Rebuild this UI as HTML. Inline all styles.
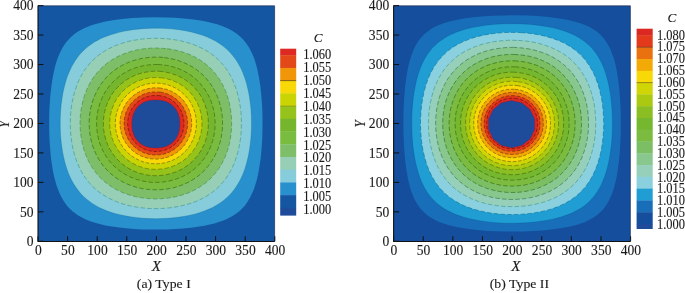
<!DOCTYPE html>
<html><head><meta charset="utf-8"><style>
html,body{margin:0;padding:0;background:#fff;}
body{width:685px;height:293px;overflow:hidden;}
svg{display:block;will-change:transform;}
text{stroke:#1a1a1a;stroke-width:0.12px;}
.t{font-family:"Liberation Serif",serif;font-size:14px;fill:#1a1a1a;}
.c{font-family:"Liberation Serif",serif;font-size:14.3px;fill:#1a1a1a;}
.cap{font-family:"Liberation Serif",serif;font-size:12.7px;fill:#1a1a1a;}
.i{font-family:"Liberation Serif",serif;font-size:14.6px;font-style:italic;fill:#1a1a1a;}
.ic{font-family:"Liberation Serif",serif;font-size:13.2px;font-style:italic;fill:#1a1a1a;}
</style></head><body>
<svg width="685" height="293" viewBox="0 0 685 293">
<clipPath id="c1000"><rect x="38.00" y="5.60" width="236.80" height="235.70"/></clipPath>
<g clip-path="url(#c1000)">
<rect x="38.00" y="5.60" width="236.80" height="235.70" fill="#1456a2"/>
<defs><path id="p1" d="M165.9 17.4 154.7 17.2 143.4 17.5 132.2 18.1 122.1 19.0 112.6 20.3 104.3 21.8 100.4 22.7 96.7 23.7 93.1 24.8 89.5 26.0 84.2 28.2 81.3 29.7 78.9 31.1 76.5 32.6 74.2 34.3 71.9 36.2 70.0 38.0 68.2 39.9 66.3 42.1 64.6 44.5 63.1 46.8 61.7 49.2 60.2 52.2 57.9 57.5 56.3 62.2 54.8 67.5 53.5 73.4 52.3 79.8 51.3 86.9 50.5 94.0 49.9 101.6 49.4 109.3 49.2 117.6 49.2 126.4 49.3 134.6 49.7 142.9 50.3 150.6 51.0 158.2 52.0 165.3 53.1 171.8 54.2 177.1 55.5 181.8 56.7 185.9 58.2 190.0 59.7 193.6 61.4 197.1 63.4 200.6 65.4 203.6 67.6 206.4 70.0 208.9 72.5 211.2 75.6 213.6 78.3 215.4 81.9 217.5 85.4 219.2 89.5 220.9 94.3 222.5 99.6 224.0 105.5 225.4 112.0 226.5 119.1 227.6 126.3 228.3 133.9 229.0 141.6 229.4 149.9 229.6 158.8 229.6 167.1 229.5 175.4 229.1 183.1 228.6 190.8 227.8 197.9 226.8 204.4 225.7 209.7 224.6 214.5 223.4 218.6 222.1 222.7 220.7 226.3 219.2 229.9 217.5 233.4 215.4 236.4 213.4 239.2 211.2 241.7 208.9 244.1 206.4 246.4 203.4 248.3 200.6 250.3 197.1 252.0 193.6 253.8 189.4 254.8 186.5 255.9 183.0 256.9 179.4 257.9 175.3 259.4 167.1 260.7 158.2 261.6 148.2 262.3 137.6 262.5 127.0 262.5 115.8 262.1 105.2 261.3 95.2 260.3 85.7 258.9 76.9 257.3 69.2 256.4 65.7 255.4 62.2 254.2 58.6 253.1 55.7 251.8 52.7 250.6 50.4 248.3 46.3 245.8 42.7 242.9 39.2 239.8 36.2 236.1 33.3 232.2 30.7 228.1 28.5 223.3 26.5 218.0 24.6 212.1 22.9 206.0 21.5 199.1 20.3 191.4 19.2 183.7 18.4 174.8 17.8Z"/></defs><use href="#p1" fill="#2890cc"/>
<defs><path id="p2" d="M167.1 28.6 162.4 28.3 157.0 28.2 151.7 28.2 147.0 28.4 142.2 28.7 137.5 29.2 132.8 29.7 128.0 30.5 123.3 31.3 119.1 32.3 115.0 33.4 111.5 34.4 107.9 35.7 104.3 37.1 100.8 38.6 97.4 40.4 94.3 42.1 91.6 43.9 89.0 45.8 86.2 48.0 83.6 50.4 81.3 52.7 79.2 55.1 77.4 57.5 75.3 60.4 73.6 63.2 71.8 66.3 70.4 69.2 69.1 72.2 67.6 75.8 66.4 79.3 65.2 83.4 63.8 88.7 62.7 94.0 61.9 99.3 61.1 105.2 60.6 111.1 60.3 117.0 60.2 122.9 60.3 129.3 60.5 135.2 61.1 141.1 61.8 147.0 62.6 152.3 63.7 157.6 65.0 162.9 66.4 167.6 68.1 172.4 69.8 176.5 71.5 180.0 73.5 183.6 75.7 187.1 78.3 190.6 80.7 193.5 83.0 196.0 86.0 198.7 89.0 201.1 91.9 203.2 95.5 205.4 99.0 207.4 102.6 209.1 106.7 210.8 110.9 212.3 115.6 213.7 120.9 215.0 126.3 216.1 131.6 217.0 137.5 217.7 143.4 218.3 149.3 218.6 155.3 218.7 161.8 218.6 167.7 218.3 173.6 217.8 179.5 217.1 184.9 216.2 190.2 215.2 195.5 213.9 200.2 212.5 205.0 210.8 209.1 209.1 212.7 207.4 216.2 205.4 219.8 203.2 223.3 200.7 226.2 198.3 228.7 195.9 231.5 193.0 233.9 190.0 236.0 187.1 238.2 183.6 240.2 180.0 241.9 176.5 243.6 172.4 245.1 168.2 246.5 163.5 248.0 157.6 249.3 151.1 250.2 144.7 251.0 137.6 251.4 130.5 251.5 123.4 251.4 116.4 251.0 109.3 250.3 102.8 249.4 96.3 248.1 89.9 246.7 84.0 244.9 78.1 242.9 72.8 240.8 68.1 238.2 63.3 235.8 59.5 232.9 55.7 229.9 52.2 226.9 49.2 223.4 46.3 219.8 43.7 215.6 41.1 211.5 38.9 206.8 36.8 202.0 35.0 196.7 33.4 191.4 32.0 185.4 30.8 179.5 29.8 173.6 29.1Z"/></defs><use href="#p2" fill="#86ccda"/>
<defs><path id="p3" d="M164.7 38.6 160.6 38.4 155.9 38.3 151.1 38.4 147.0 38.6 142.2 39.0 138.1 39.6 133.9 40.3 129.8 41.1 125.7 42.2 121.9 43.3 118.0 44.7 114.4 46.1 110.9 47.7 107.3 49.5 104.3 51.3 101.4 53.2 98.4 55.4 95.9 57.5 93.3 59.8 90.7 62.5 88.4 65.2 86.1 68.1 84.2 70.8 82.4 73.6 80.7 76.8 79.2 79.8 77.6 83.4 76.3 86.9 75.1 90.5 73.9 94.6 72.9 98.7 72.1 102.8 71.3 107.5 70.8 112.3 70.4 117.0 70.3 121.7 70.3 127.0 70.6 131.7 71.0 136.4 71.6 141.1 72.4 145.8 73.3 150.0 74.5 154.7 75.8 158.8 77.4 162.9 79.2 167.1 80.9 170.6 83.0 174.1 84.9 177.1 87.2 180.2 89.5 183.1 92.1 185.9 94.9 188.5 97.8 191.1 100.8 193.3 103.9 195.3 107.3 197.4 110.9 199.2 114.4 200.8 118.4 202.4 122.1 203.7 126.3 204.9 130.4 205.9 135.1 206.8 139.9 207.6 144.6 208.1 149.3 208.5 154.1 208.6 159.4 208.6 164.1 208.3 168.9 207.9 173.6 207.3 178.3 206.5 182.5 205.6 187.2 204.4 191.4 203.1 195.5 201.6 199.7 199.8 203.2 198.0 206.8 196.0 209.7 194.1 212.9 191.8 215.8 189.4 218.6 186.9 221.2 184.1 223.8 181.2 226.0 178.3 228.1 175.2 230.1 171.8 232.0 168.2 233.6 164.7 235.2 160.7 236.4 157.0 237.7 152.9 238.7 148.8 239.6 144.1 240.4 139.4 241.0 134.1 241.3 128.8 241.4 123.4 241.3 118.1 241.0 112.8 240.4 107.5 239.6 102.8 238.5 97.5 237.3 92.8 235.9 88.1 234.3 84.0 232.5 79.8 230.4 75.7 228.4 72.2 226.0 68.6 223.8 65.7 221.0 62.5 218.0 59.5 215.1 56.8 212.1 54.5 208.5 52.0 204.9 49.8 200.8 47.7 197.3 46.1 193.1 44.4 189.0 43.0 184.3 41.7 179.5 40.6 174.8 39.8 170.1 39.1Z"/></defs><use href="#p3" fill="#96cfb6"/>
<defs><path id="p4" d="M165.9 48.6 162.4 48.3 158.2 48.1 154.1 48.0 150.5 48.2 146.4 48.5 142.8 48.9 138.7 49.6 135.1 50.4 131.6 51.3 128.0 52.4 124.5 53.6 121.5 54.8 118.0 56.5 115.0 58.0 112.1 59.8 109.4 61.6 106.7 63.5 104.1 65.7 101.5 68.1 99.2 70.4 97.1 72.8 94.9 75.6 93.1 78.1 91.2 81.0 89.5 84.0 88.0 86.9 86.6 90.0 85.3 93.4 84.1 96.9 83.0 100.5 82.2 104.0 81.5 107.5 80.9 111.1 80.4 115.2 80.2 119.3 80.1 123.4 80.2 127.6 80.4 131.7 80.9 135.8 81.5 139.4 82.3 143.5 83.2 147.0 84.4 151.1 85.7 154.7 87.2 158.2 88.6 161.2 90.5 164.7 92.3 167.6 94.3 170.5 96.1 172.9 98.4 175.6 100.9 178.3 103.4 180.6 106.1 182.9 109.1 185.1 112.0 187.1 115.0 188.9 118.4 190.6 121.5 192.1 125.1 193.5 128.6 194.7 132.2 195.8 135.7 196.7 139.9 197.5 143.4 198.0 147.6 198.5 151.7 198.8 155.9 198.9 160.0 198.8 164.1 198.5 168.3 198.0 171.8 197.5 176.0 196.7 179.5 195.8 183.7 194.5 187.2 193.3 190.8 191.8 193.7 190.4 197.3 188.5 200.2 186.7 203.1 184.7 205.6 182.9 208.3 180.6 210.9 178.1 213.3 175.6 215.6 172.9 217.8 170.0 219.8 167.1 221.6 164.1 223.3 160.7 224.8 157.6 226.2 154.1 227.5 150.6 228.5 147.0 229.4 143.5 230.2 139.4 230.9 135.2 231.3 131.1 231.6 127.0 231.6 122.3 231.5 118.1 231.1 114.0 230.6 109.9 229.9 105.8 229.0 101.6 228.0 98.1 226.7 94.0 225.3 90.5 223.7 86.9 221.9 83.4 219.8 79.9 217.8 76.9 215.6 74.0 213.3 71.3 210.8 68.6 207.9 66.0 205.0 63.5 202.3 61.6 199.1 59.4 196.1 57.7 192.6 55.9 189.0 54.3 185.4 53.0 181.9 51.8 178.3 50.8 174.2 49.9 170.1 49.1Z"/></defs><use href="#p4" fill="#7ebe68"/>
<defs><path id="p5" d="M163.0 57.4 160.0 57.2 156.4 57.1 152.9 57.2 149.3 57.4 145.8 57.8 142.8 58.2 139.3 59.0 136.3 59.7 133.4 60.6 130.4 61.6 127.4 62.8 124.5 64.1 121.5 65.7 119.1 67.1 116.2 69.0 113.8 70.7 111.5 72.6 109.1 74.7 106.9 76.9 104.9 79.1 102.9 81.6 101.1 84.0 99.6 86.3 97.8 89.3 96.3 92.2 94.9 95.2 93.7 98.1 92.7 101.1 91.8 104.0 90.9 107.5 90.3 110.5 89.8 114.0 89.4 117.6 89.2 120.5 89.2 124.0 89.3 127.6 89.6 131.1 90.0 134.6 90.5 137.6 91.3 141.1 92.3 144.7 93.3 147.6 94.4 150.6 95.7 153.5 97.2 156.4 98.8 159.4 100.7 162.3 102.4 164.7 104.3 167.1 106.4 169.4 108.5 171.6 110.9 173.8 113.2 175.7 115.8 177.7 118.6 179.5 121.5 181.2 124.5 182.8 127.4 184.1 130.4 185.3 133.4 186.3 136.3 187.2 139.9 188.1 142.8 188.7 146.4 189.2 149.9 189.6 152.9 189.7 156.4 189.8 160.0 189.7 163.5 189.4 167.1 189.0 170.1 188.4 173.6 187.7 177.2 186.7 180.1 185.7 183.1 184.6 186.0 183.3 189.0 181.9 192.0 180.2 194.9 178.3 197.3 176.6 199.7 174.8 202.0 172.7 204.2 170.6 206.4 168.2 208.4 165.9 210.3 163.3 212.1 160.6 213.9 157.7 215.4 154.7 216.8 151.7 218.0 148.8 219.0 145.8 219.9 142.9 220.8 139.4 221.4 136.4 221.9 132.9 222.3 129.3 222.5 125.8 222.5 122.3 222.4 118.7 222.1 115.2 221.6 111.7 220.9 108.1 220.2 105.2 219.4 102.2 218.2 98.7 216.8 95.2 215.4 92.2 213.9 89.3 212.1 86.3 210.3 83.6 208.5 81.2 206.4 78.7 204.4 76.5 202.0 74.2 199.7 72.1 197.3 70.3 194.3 68.2 192.0 66.7 189.0 65.0 186.0 63.6 183.1 62.3 180.1 61.2 176.6 60.0 173.0 59.1 170.1 58.5 166.5 57.9Z"/></defs><use href="#p5" fill="#7abc40"/>
<defs><path id="p6" d="M157.6 64.5 154.7 64.5 151.7 64.6 148.7 64.9 145.8 65.3 142.8 65.8 139.9 66.5 136.9 67.4 134.5 68.2 131.6 69.3 129.2 70.4 126.3 71.9 123.9 73.3 121.5 74.8 119.1 76.5 117.2 78.1 115.0 80.0 113.2 81.7 111.1 84.0 109.6 85.7 107.8 88.1 106.2 90.5 104.7 92.8 103.4 95.2 102.0 98.2 101.0 100.5 99.9 103.4 99.0 106.4 98.2 109.3 97.6 112.3 97.2 115.2 96.8 118.1 96.7 121.1 96.6 124.0 96.7 127.0 97.0 129.9 97.3 132.9 97.8 135.8 98.5 138.8 99.3 141.7 100.3 144.7 101.5 147.6 102.5 150.0 103.7 152.3 105.1 154.7 106.6 157.0 108.2 159.4 110.1 161.8 112.0 164.0 113.9 165.9 116.2 168.0 118.0 169.5 120.3 171.3 122.7 172.9 125.1 174.3 127.4 175.6 130.4 177.0 132.8 178.0 135.7 179.1 138.7 180.0 141.6 180.8 144.6 181.4 147.6 181.9 150.5 182.2 153.5 182.4 156.4 182.4 159.4 182.3 162.4 182.1 165.3 181.7 168.3 181.2 171.2 180.5 174.2 179.7 177.2 178.7 180.1 177.6 182.5 176.5 184.9 175.3 187.2 174.0 189.6 172.5 192.0 170.8 194.3 169.0 196.5 167.1 198.5 165.2 200.6 162.9 202.1 161.2 203.9 158.8 205.5 156.4 207.0 154.1 208.3 151.7 209.7 148.8 210.7 146.4 211.8 143.5 212.7 140.5 213.5 137.6 214.1 134.6 214.5 131.7 214.9 128.8 215.0 125.8 215.1 122.9 215.0 119.9 214.7 117.0 214.4 114.0 213.9 111.1 213.2 108.1 212.4 105.2 211.4 102.2 210.2 99.3 209.2 96.9 207.6 94.0 206.3 91.6 204.7 89.3 203.0 86.9 201.4 85.0 199.5 82.8 197.8 81.0 195.5 78.9 193.1 77.0 190.8 75.2 188.4 73.6 186.0 72.2 183.7 71.0 180.7 69.6 177.8 68.4 175.4 67.6 172.4 66.7 169.5 66.0 166.5 65.4 163.5 65.0 160.6 64.7Z"/></defs><use href="#p6" fill="#76b62e"/>
<defs><path id="p7" d="M161.8 71.5 159.4 71.3 156.4 71.2 153.5 71.3 151.1 71.4 148.2 71.8 145.8 72.1 141.1 73.2 136.3 74.8 133.9 75.8 131.6 76.9 127.4 79.3 125.1 80.8 123.2 82.2 121.0 84.0 119.1 85.7 117.4 87.5 115.8 89.3 114.3 91.0 112.6 93.3 110.0 97.5 108.8 99.9 107.7 102.2 106.8 104.6 105.9 107.0 104.7 111.7 104.1 114.6 103.8 117.0 103.5 119.3 103.4 122.3 103.4 125.2 103.5 127.6 103.8 130.5 104.2 132.9 105.2 137.6 106.8 142.3 107.7 144.7 108.8 147.0 110.0 149.4 111.4 151.7 113.0 154.1 114.3 155.9 116.2 158.1 117.9 160.0 119.7 161.8 121.5 163.4 123.3 164.8 125.6 166.5 129.8 169.1 132.2 170.3 134.5 171.4 139.3 173.1 144.0 174.4 147.0 175.0 149.3 175.3 151.7 175.5 154.7 175.7 157.6 175.7 160.0 175.5 163.0 175.2 165.3 174.9 170.1 173.8 174.8 172.3 177.2 171.4 179.5 170.3 181.9 169.1 184.3 167.7 186.6 166.1 188.4 164.8 190.7 162.9 192.6 161.2 194.3 159.4 195.9 157.6 197.4 155.9 199.1 153.6 201.7 149.4 202.9 147.0 204.0 144.7 204.9 142.3 205.8 139.9 207.0 135.2 207.6 132.3 207.9 129.9 208.2 127.6 208.3 124.6 208.3 121.7 208.2 119.3 207.9 116.4 207.5 114.0 206.5 109.3 204.9 104.6 204.0 102.2 202.9 99.9 201.7 97.5 200.3 95.2 198.7 92.8 197.3 90.9 195.5 88.8 193.8 86.9 192.0 85.1 190.2 83.5 188.4 82.1 186.1 80.4 181.9 77.8 179.5 76.6 177.2 75.5 172.4 73.8 170.1 73.1 167.1 72.4 164.7 71.9Z"/></defs><use href="#p7" fill="#96c21c"/>
<defs><path id="p8" d="M163.0 78.0 160.6 77.8 158.2 77.6 153.5 77.6 151.1 77.8 148.7 78.0 144.6 78.9 140.5 80.1 136.3 81.7 132.2 83.9 128.6 86.2 125.1 89.0 121.8 92.2 118.8 95.8 116.4 99.3 114.5 102.8 112.7 107.0 111.4 111.1 110.8 113.4 110.3 115.8 110.0 118.1 109.8 120.5 109.7 125.2 110.2 129.9 110.9 134.1 111.5 136.4 112.3 138.8 113.9 142.9 116.1 147.0 118.4 150.6 121.2 154.1 124.5 157.4 128.0 160.3 131.6 162.7 135.1 164.6 139.3 166.4 143.4 167.7 145.8 168.3 148.2 168.8 150.5 169.1 152.9 169.3 157.6 169.3 162.4 168.9 166.5 168.2 168.9 167.6 171.2 166.8 175.4 165.2 179.5 163.0 183.1 160.7 186.6 157.9 189.9 154.7 192.9 151.1 195.3 147.6 197.2 144.1 199.0 139.9 200.3 135.8 200.9 133.5 201.4 131.1 201.7 128.8 201.9 126.4 202.0 121.7 201.5 117.0 200.8 112.8 200.2 110.5 199.4 108.1 197.8 104.0 195.6 99.9 193.3 96.3 190.5 92.8 187.2 89.5 183.7 86.6 180.1 84.2 176.0 82.0 171.8 80.3 167.7 79.0 165.3 78.5Z"/></defs><use href="#p8" fill="#cad404"/>
<defs><path id="p9" d="M160.6 83.4 157.0 83.1 152.9 83.2 148.7 83.7 145.2 84.5 141.1 85.8 137.5 87.4 133.9 89.4 131.0 91.4 128.0 94.0 125.1 96.9 122.7 100.0 120.6 103.4 118.8 107.0 117.4 110.5 116.4 114.0 115.6 118.1 115.3 122.3 115.4 126.4 115.9 130.5 116.7 134.1 118.0 138.2 119.6 141.7 121.6 145.3 123.7 148.2 126.3 151.2 129.2 154.0 132.3 156.4 135.7 158.6 139.3 160.3 142.8 161.7 146.4 162.7 150.5 163.5 154.7 163.8 158.8 163.7 163.0 163.2 166.5 162.4 170.7 161.1 174.2 159.5 177.8 157.5 180.7 155.5 183.7 152.9 186.6 150.0 189.0 146.9 191.1 143.5 192.9 139.9 194.3 136.4 195.3 132.9 196.1 128.8 196.4 124.6 196.3 120.5 195.8 116.4 195.0 112.8 193.7 108.7 192.1 105.2 190.1 101.6 188.0 98.7 185.4 95.7 182.5 92.9 179.4 90.5 176.0 88.3 172.4 86.6 168.3 85.0 164.7 84.0Z"/></defs><use href="#p9" fill="#f8d806"/>
<defs><path id="p10" d="M160.6 88.1 157.0 87.8 153.5 87.8 149.9 88.3 146.4 89.0 142.8 90.2 139.9 91.5 136.9 93.1 133.9 95.1 131.1 97.5 128.8 99.9 126.5 102.8 124.7 105.8 123.2 108.7 121.8 112.3 121.0 115.2 120.3 118.7 120.0 122.3 120.1 125.8 120.5 129.3 121.3 132.9 122.4 136.4 123.7 139.4 125.4 142.3 127.4 145.3 129.8 148.1 132.2 150.3 135.1 152.6 138.1 154.5 141.1 156.0 144.6 157.4 147.6 158.2 151.1 158.8 154.7 159.1 158.2 159.1 161.8 158.6 165.3 157.9 168.9 156.7 171.8 155.4 174.8 153.8 177.8 151.8 180.6 149.4 182.9 147.0 185.2 144.1 187.0 141.1 188.5 138.2 189.9 134.6 190.7 131.7 191.4 128.2 191.7 124.6 191.6 121.1 191.2 117.6 190.4 114.0 189.3 110.5 188.0 107.5 186.3 104.6 184.3 101.6 181.9 98.8 179.5 96.6 176.6 94.3 173.6 92.4 170.7 90.9 167.1 89.5 164.1 88.7Z"/></defs><use href="#p10" fill="#f09608"/>
<defs><path id="p11" d="M160.6 92.2 157.6 91.9 154.1 91.9 151.1 92.2 148.2 92.7 145.2 93.6 142.2 94.8 139.4 96.3 136.9 98.0 134.5 99.9 132.2 102.2 130.2 104.6 128.7 107.0 127.1 109.9 125.9 112.8 125.0 115.8 124.4 118.7 124.1 121.7 124.1 125.2 124.4 128.2 125.0 131.1 125.9 134.1 127.1 137.0 128.6 139.9 130.2 142.3 132.2 144.7 134.5 147.0 136.9 148.9 139.3 150.5 142.2 152.1 145.2 153.3 148.2 154.2 151.1 154.7 154.1 155.0 157.6 155.0 160.6 154.7 163.5 154.2 166.5 153.3 169.5 152.1 172.3 150.6 174.8 148.9 177.2 147.0 179.5 144.7 181.5 142.3 183.0 139.9 184.6 137.0 185.8 134.1 186.7 131.1 187.3 128.2 187.6 125.2 187.6 121.7 187.3 118.7 186.7 115.8 185.8 112.8 184.6 109.9 183.1 107.0 181.5 104.6 179.5 102.2 177.2 99.9 174.8 98.0 172.4 96.4 169.5 94.8 166.5 93.6 163.5 92.7Z"/></defs><use href="#p11" fill="#e24818"/>
<defs><path id="p12" d="M160.0 95.7 157.0 95.4 154.1 95.5 151.7 95.7 148.7 96.3 145.8 97.2 143.4 98.2 141.1 99.5 138.8 101.1 136.6 102.8 134.9 104.6 133.0 107.0 131.6 109.1 130.2 111.7 129.3 114.0 128.4 117.0 128.0 119.3 127.7 122.3 127.7 125.2 128.0 127.6 128.6 130.5 129.5 133.5 130.5 135.8 131.8 138.2 133.4 140.4 135.1 142.6 136.9 144.3 139.3 146.2 141.4 147.6 144.0 148.9 146.4 149.9 149.3 150.7 151.7 151.2 154.7 151.5 157.6 151.4 160.0 151.2 163.0 150.6 165.9 149.7 168.3 148.7 170.7 147.4 172.9 145.8 175.1 144.1 176.8 142.3 178.7 139.9 180.1 137.8 181.5 135.2 182.4 132.9 183.3 129.9 183.7 127.6 184.0 124.6 184.0 121.7 183.7 119.3 183.1 116.4 182.2 113.4 181.2 111.1 179.9 108.7 178.3 106.5 176.6 104.3 174.8 102.6 172.4 100.7 170.3 99.3 167.7 98.0 165.3 97.0 162.4 96.2Z"/></defs><use href="#p12" fill="#de2822"/>
<path d="M179.85 124.00 179.82 125.75 179.73 127.24 179.59 128.63 179.38 129.97 179.12 131.25 178.80 132.49 178.43 133.68 178.00 134.83 177.51 135.94 176.97 137.01 176.38 138.04 175.73 139.03 175.03 139.97 174.28 140.86 173.49 141.71 172.64 142.51 171.75 143.26 170.81 143.96 169.83 144.61 168.81 145.21 167.74 145.75 166.64 146.24 165.49 146.67 164.30 147.05 163.07 147.37 161.79 147.63 160.46 147.84 159.07 147.98 157.59 148.07 155.85 148.10 154.11 148.07 152.63 147.98 151.24 147.84 149.91 147.63 148.63 147.37 147.40 147.05 146.21 146.67 145.06 146.24 143.96 145.75 142.89 145.21 141.87 144.61 140.89 143.96 139.95 143.26 139.06 142.51 138.21 141.71 137.42 140.86 136.67 139.97 135.97 139.03 135.32 138.04 134.73 137.01 134.19 135.94 133.70 134.83 133.27 133.68 132.90 132.49 132.58 131.25 132.32 129.97 132.11 128.63 131.97 127.24 131.88 125.75 131.85 124.00 131.88 122.25 131.97 120.76 132.11 119.37 132.32 118.03 132.58 116.75 132.90 115.51 133.27 114.32 133.70 113.17 134.19 112.06 134.73 110.99 135.32 109.96 135.97 108.97 136.67 108.03 137.42 107.14 138.21 106.29 139.06 105.49 139.95 104.74 140.89 104.04 141.87 103.39 142.89 102.79 143.96 102.25 145.06 101.76 146.21 101.33 147.40 100.95 148.63 100.63 149.91 100.37 151.24 100.16 152.63 100.02 154.11 99.93 155.85 99.90 157.59 99.93 159.07 100.02 160.46 100.16 161.79 100.37 163.07 100.63 164.30 100.95 165.49 101.33 166.64 101.76 167.74 102.25 168.81 102.79 169.83 103.39 170.81 104.04 171.75 104.74 172.64 105.49 173.49 106.29 174.28 107.14 175.03 108.03 175.73 108.97 176.38 109.96 176.97 110.99 177.51 112.06 178.00 113.17 178.43 114.32 178.80 115.51 179.12 116.75 179.38 118.03 179.59 119.37 179.73 120.76 179.82 122.25Z" fill="#1f4b9b" stroke="#9a1a20" stroke-width="0.7" stroke-opacity="0.6"/>
<use href="#p1" fill="none" stroke="#00457c" stroke-width="0.7" opacity="0.00"/>
<use href="#p2" fill="none" stroke="#00658f" stroke-width="0.7" opacity="0.40"/>
<use href="#p3" fill="none" stroke="#358c84" stroke-width="0.7" opacity="0.80" stroke-dasharray="4.5 2.2"/>
<use href="#p4" fill="none" stroke="#35873c" stroke-width="0.7" opacity="0.80" stroke-dasharray="4.5 2.2"/>
<use href="#p5" fill="none" stroke="#245e00" stroke-width="0.7" opacity="0.80" stroke-dasharray="4.5 2.2"/>
<use href="#p6" fill="none" stroke="#2e5c00" stroke-width="0.7" opacity="0.80" stroke-dasharray="4.5 2.2"/>
<use href="#p7" fill="none" stroke="#3c5e00" stroke-width="0.7" opacity="0.80" stroke-dasharray="4.5 2.2"/>
<use href="#p8" fill="none" stroke="#576600" stroke-width="0.7" opacity="0.80" stroke-dasharray="4.5 2.2"/>
<use href="#p9" fill="none" stroke="#565100" stroke-width="0.7" opacity="0.80" stroke-dasharray="3.5 1.8"/>
<use href="#p10" fill="none" stroke="#5d4500" stroke-width="0.7" opacity="0.80" stroke-dasharray="3.5 1.8"/>
<use href="#p11" fill="none" stroke="#592700" stroke-width="0.7" opacity="0.80" stroke-dasharray="3.5 1.8"/>
<use href="#p12" fill="none" stroke="#550c00" stroke-width="0.7" opacity="0.80" stroke-dasharray="3.5 1.8"/>
</g>
<clipPath id="c1012"><rect x="393.60" y="5.60" width="237.00" height="235.70"/></clipPath>
<g clip-path="url(#c1012)">
<rect x="393.60" y="5.60" width="237.00" height="235.70" fill="#144e9c"/>
<defs><path id="p13" d="M528.1 15.6 516.2 15.3 504.4 15.4 492.5 15.8 481.3 16.5 471.2 17.5 462.3 18.8 454.0 20.4 450.5 21.3 446.9 22.2 443.7 23.3 440.4 24.5 437.6 25.6 435.1 26.8 432.7 28.1 430.3 29.5 428.3 30.9 426.2 32.6 424.0 34.5 422.3 36.2 420.7 38.0 419.1 40.1 417.7 42.1 416.1 44.7 414.7 47.4 413.6 49.8 411.7 54.5 410.2 59.2 408.7 64.5 407.5 70.4 406.4 76.9 405.4 84.0 404.7 91.6 404.1 99.3 403.6 108.1 403.4 117.0 403.4 126.4 403.5 135.2 403.9 144.1 404.5 152.9 405.2 160.6 406.1 168.2 407.0 173.5 408.0 178.8 409.0 183.6 410.3 188.3 411.7 192.4 413.3 196.5 414.9 200.0 416.7 203.2 418.5 206.0 420.7 208.9 423.2 211.6 425.6 213.8 428.6 216.2 431.5 218.1 434.5 219.8 438.0 221.5 442.8 223.3 447.5 224.8 452.9 226.2 458.8 227.5 465.3 228.6 472.4 229.5 480.1 230.3 487.8 230.9 496.7 231.3 505.6 231.6 515.1 231.6 524.0 231.4 532.8 231.1 541.7 230.5 549.4 229.8 557.1 228.8 562.5 228.0 567.8 227.0 572.5 225.9 577.3 224.7 581.4 223.3 585.6 221.7 589.1 220.1 592.3 218.3 595.1 216.6 598.0 214.3 600.8 211.8 603.0 209.5 605.3 206.5 607.3 203.6 608.9 200.6 610.6 197.1 611.9 194.2 612.9 191.2 614.0 187.8 615.0 184.1 616.0 180.0 616.8 175.9 618.2 167.1 619.4 157.0 620.2 146.4 620.7 134.6 620.8 122.9 620.7 111.1 620.1 99.3 619.3 88.7 618.1 78.7 616.6 69.8 615.8 66.0 614.9 62.2 613.9 58.6 612.8 55.4 611.6 52.2 610.4 49.2 608.1 44.7 605.7 41.0 603.3 37.8 600.4 34.7 598.6 33.1 596.8 31.6 593.3 29.2 589.1 26.8 585.0 24.9 579.6 23.0 574.3 21.4 568.4 20.0 561.3 18.7 554.2 17.7 545.9 16.8 537.0 16.1Z"/></defs><use href="#p13" fill="#186eb9"/>
<defs><path id="p14" d="M521.6 23.9 516.2 23.7 510.9 23.7 505.6 23.7 500.2 24.0 494.9 24.3 490.2 24.7 485.4 25.3 480.7 26.0 476.0 26.8 471.8 27.6 467.9 28.6 464.1 29.6 460.6 30.7 456.6 32.1 453.4 33.4 449.9 35.1 446.9 36.6 444.0 38.4 441.0 40.4 438.6 42.1 436.3 44.2 434.0 46.3 431.8 48.6 429.9 51.0 428.0 53.6 426.2 56.2 424.8 58.6 423.2 61.6 421.8 64.5 420.3 68.1 419.1 71.6 417.9 75.1 416.5 80.4 415.3 85.7 414.2 91.6 413.3 97.5 412.6 104.0 412.1 110.5 411.8 117.0 411.8 124.0 411.9 131.1 412.2 137.6 412.7 144.1 413.5 150.6 414.4 156.4 415.5 162.3 416.8 167.6 418.3 172.9 419.9 177.7 421.4 181.5 423.2 185.3 425.1 188.9 427.3 192.4 429.4 195.3 431.8 198.3 434.5 201.1 437.4 203.8 440.4 206.1 443.6 208.3 446.9 210.3 450.5 212.1 454.6 214.0 458.8 215.6 462.9 216.9 468.3 218.4 473.6 219.6 479.5 220.7 486.0 221.7 492.5 222.4 499.1 222.9 505.6 223.2 512.7 223.2 519.8 223.1 526.3 222.8 532.8 222.3 539.4 221.5 545.9 220.5 551.8 219.4 557.1 218.1 562.5 216.6 566.6 215.1 570.8 213.5 574.9 211.6 578.5 209.6 581.5 207.7 584.8 205.4 587.7 203.0 590.3 200.5 592.9 197.7 595.2 194.7 597.4 191.6 599.4 188.3 601.3 184.7 603.1 180.6 604.7 176.5 606.3 171.8 608.0 165.3 609.5 158.2 610.7 150.6 611.6 142.9 612.2 134.6 612.4 126.4 612.4 118.1 612.0 109.9 611.4 102.2 610.5 94.6 609.3 87.4 607.7 80.4 606.1 74.5 604.1 68.6 601.8 63.3 599.2 58.2 596.5 53.9 593.9 50.4 590.9 47.0 587.7 43.9 584.0 41.0 580.2 38.4 576.1 36.0 571.4 33.7 566.6 31.8 561.3 30.0 555.4 28.3 549.4 27.0 542.9 25.9 535.8 24.9 528.7 24.3Z"/></defs><use href="#p14" fill="#209ed4"/>
<defs><path id="p15" d="M522.2 32.7 517.4 32.4 512.7 32.4 508.0 32.4 503.2 32.6 498.5 33.0 493.7 33.5 489.0 34.2 484.8 34.9 480.1 35.9 476.0 37.0 471.8 38.3 468.3 39.6 464.7 41.0 461.1 42.6 457.6 44.4 454.6 46.2 451.7 48.1 448.7 50.3 446.3 52.3 443.9 54.5 441.6 56.9 439.2 59.6 437.2 62.2 435.2 65.1 433.3 68.1 431.5 71.4 430.0 74.5 428.4 78.1 427.1 81.6 425.9 85.1 424.7 89.3 423.7 93.4 422.6 98.7 421.8 104.0 421.2 109.3 420.8 114.6 420.5 119.9 420.5 125.8 420.7 131.1 421.1 136.4 421.6 141.7 422.4 147.0 423.4 152.3 424.6 157.0 425.9 161.8 427.3 165.9 428.9 170.0 430.8 174.1 432.7 177.7 434.8 181.2 436.9 184.2 439.2 187.3 441.6 190.0 444.5 193.0 447.5 195.6 450.5 197.9 453.6 200.1 457.0 202.1 460.6 204.0 464.1 205.7 468.3 207.3 472.4 208.8 476.6 210.0 481.3 211.2 486.6 212.3 492.0 213.2 497.3 213.8 502.6 214.3 508.0 214.5 513.9 214.5 519.2 214.4 524.5 214.0 529.9 213.5 535.2 212.7 540.5 211.7 545.3 210.7 550.0 209.4 554.8 207.8 558.9 206.2 563.1 204.3 566.6 202.5 570.2 200.3 573.2 198.3 576.3 195.9 579.1 193.6 582.0 190.6 584.7 187.7 587.0 184.7 589.1 181.6 591.2 178.3 593.1 174.7 595.0 170.6 596.7 166.5 598.1 162.3 599.3 158.2 600.5 153.5 601.6 148.2 602.5 142.3 603.1 136.4 603.6 129.9 603.7 124.0 603.6 117.6 603.2 111.1 602.6 105.2 601.7 99.3 600.6 94.0 599.3 88.7 597.7 83.4 596.0 78.7 593.9 73.7 591.5 69.2 589.1 65.3 586.5 61.6 583.8 58.2 580.9 55.1 577.9 52.3 574.3 49.4 570.8 46.9 567.2 44.8 563.1 42.6 558.9 40.7 554.2 38.9 549.4 37.4 544.1 35.9 538.8 34.8 533.4 33.9 528.1 33.2Z"/></defs><use href="#p15" fill="#8ad0de"/>
<defs><path id="p16" d="M516.8 40.4 512.7 40.3 508.0 40.3 503.2 40.6 499.1 41.0 494.9 41.5 490.8 42.3 486.6 43.2 482.5 44.2 478.3 45.5 474.8 46.8 471.2 48.3 467.7 50.0 464.1 51.9 461.1 53.7 458.2 55.7 455.2 58.0 452.5 60.4 449.9 62.9 447.5 65.5 445.1 68.3 442.8 71.6 440.9 74.5 439.2 77.5 437.4 81.0 435.8 84.6 434.4 88.1 433.2 91.6 432.0 95.8 431.0 99.9 430.1 104.0 429.5 108.1 428.9 112.8 428.6 117.6 428.5 122.3 428.5 127.0 428.7 131.7 429.2 136.4 429.7 140.5 430.6 145.3 431.5 149.4 432.6 153.5 434.0 157.6 435.5 161.8 437.1 165.3 438.8 168.8 440.9 172.4 442.8 175.3 445.1 178.6 447.5 181.4 449.9 184.0 452.5 186.5 455.2 188.9 458.2 191.2 461.1 193.2 464.7 195.3 468.3 197.2 471.8 198.9 475.4 200.3 479.5 201.8 483.7 203.0 487.8 204.0 492.5 205.0 496.7 205.6 501.4 206.2 506.2 206.5 510.9 206.6 515.7 206.6 520.4 206.3 525.1 205.9 529.3 205.4 534.0 204.5 538.2 203.6 542.3 202.5 546.5 201.2 550.6 199.6 554.2 198.1 557.7 196.3 561.3 194.3 564.2 192.4 567.5 190.0 570.4 187.7 573.0 185.3 575.5 182.8 577.9 180.0 580.2 177.1 582.2 174.1 584.4 170.6 586.3 167.1 587.9 163.5 589.4 160.0 590.8 155.9 592.1 151.7 593.1 147.6 594.1 142.9 594.7 138.8 595.3 134.1 595.6 129.3 595.7 124.6 595.7 119.3 595.4 114.6 594.9 109.9 594.3 105.2 593.4 100.5 592.4 96.3 591.2 92.2 589.7 87.8 588.2 84.0 586.3 79.8 584.4 76.3 582.2 72.8 579.7 69.2 577.4 66.3 574.7 63.3 571.9 60.6 569.0 58.0 566.0 55.7 563.1 53.7 559.5 51.6 555.9 49.7 551.8 47.8 547.7 46.2 543.5 44.8 539.4 43.6 535.2 42.6 531.1 41.8 526.3 41.1 521.6 40.6Z"/></defs><use href="#p16" fill="#96d0ba"/>
<defs><path id="p17" d="M513.9 47.4 509.7 47.4 505.6 47.6 502.0 48.0 497.9 48.5 493.7 49.2 490.2 50.0 486.0 51.1 482.5 52.3 478.9 53.6 476.0 54.9 472.4 56.7 469.4 58.3 466.5 60.1 463.5 62.2 460.6 64.5 457.9 66.9 455.2 69.6 452.9 72.2 451.0 74.5 448.8 77.5 446.9 80.4 445.1 83.6 443.5 86.9 441.9 90.5 440.5 94.0 439.4 97.5 438.4 101.1 437.6 104.6 436.9 108.1 436.3 112.3 435.9 116.4 435.7 120.5 435.7 124.6 435.8 128.8 436.1 132.9 436.6 136.4 437.2 140.5 438.0 144.1 439.0 148.2 440.1 151.7 441.4 155.3 442.9 158.8 444.6 162.3 446.3 165.4 448.5 168.8 450.5 171.7 452.9 174.7 455.0 177.1 457.3 179.4 460.0 181.8 462.9 184.2 465.9 186.4 468.8 188.2 471.8 189.9 474.8 191.4 478.3 193.0 481.9 194.4 485.4 195.6 489.0 196.6 493.1 197.6 496.7 198.2 500.8 198.8 505.0 199.2 509.1 199.4 513.3 199.5 517.4 199.3 521.6 199.0 525.1 198.6 529.3 197.9 532.8 197.2 537.0 196.1 540.5 195.0 544.1 193.7 547.7 192.3 551.2 190.6 554.3 188.9 557.7 186.8 560.6 184.7 563.6 182.4 566.0 180.2 568.4 177.9 570.8 175.3 573.2 172.4 575.4 169.4 577.3 166.5 579.0 163.5 580.5 160.6 582.1 157.0 583.4 153.5 584.6 150.0 585.6 146.4 586.6 142.3 587.3 138.8 587.9 134.6 588.3 130.5 588.5 126.4 588.5 122.3 588.4 118.1 588.1 114.0 587.6 109.9 586.9 105.8 586.1 102.2 585.0 98.1 583.9 94.6 582.5 91.0 581.0 87.5 579.3 84.0 577.6 81.0 575.7 78.1 573.7 75.1 571.4 72.2 569.0 69.6 566.3 66.9 563.6 64.6 561.3 62.7 558.3 60.5 555.4 58.7 552.2 56.9 548.8 55.2 545.3 53.6 541.7 52.3 537.6 51.0 534.0 50.0 529.9 49.1 526.3 48.5 522.2 48.0 518.0 47.6Z"/></defs><use href="#p17" fill="#88c78e"/>
<defs><path id="p18" d="M515.1 54.5 511.5 54.4 508.0 54.5 504.4 54.8 500.8 55.2 497.3 55.8 493.7 56.6 490.2 57.5 487.2 58.4 483.7 59.8 480.7 61.0 477.7 62.5 474.8 64.1 472.1 65.7 469.4 67.5 467.1 69.3 464.4 71.6 462.3 73.6 460.0 76.0 457.7 78.7 455.8 81.1 453.9 84.0 452.1 86.9 450.5 89.9 449.1 92.8 447.8 95.8 446.5 99.3 445.6 102.2 444.7 105.8 444.1 108.7 443.5 112.3 443.1 115.8 442.8 119.3 442.7 123.4 442.8 127.0 443.0 130.5 443.4 134.1 444.0 137.6 444.7 141.1 445.6 144.7 446.5 147.6 447.8 151.1 449.1 154.1 450.5 157.0 452.1 160.0 453.9 162.9 455.5 165.3 457.6 168.1 459.7 170.6 461.9 172.9 464.4 175.3 467.1 177.6 469.4 179.4 472.1 181.2 474.8 182.8 477.7 184.4 480.7 185.9 483.7 187.1 487.2 188.5 490.2 189.4 493.7 190.3 497.3 191.1 500.8 191.7 504.4 192.1 508.0 192.4 512.1 192.5 515.7 192.4 519.2 192.2 522.8 191.8 526.3 191.2 529.9 190.5 533.4 189.6 536.4 188.7 539.9 187.4 542.9 186.1 545.9 184.7 548.8 183.2 551.8 181.4 554.2 179.8 557.0 177.7 559.5 175.6 561.9 173.3 564.2 170.9 566.5 168.2 568.3 165.9 570.2 163.2 571.8 160.6 573.4 157.6 574.9 154.7 576.1 151.7 577.5 148.2 578.4 145.3 579.3 141.7 580.1 138.2 580.7 134.6 581.1 131.1 581.4 127.6 581.5 123.4 581.4 119.9 581.2 116.4 580.8 112.8 580.2 109.3 579.5 105.8 578.6 102.2 577.7 99.3 576.4 95.8 575.1 92.8 573.7 89.9 572.1 86.9 570.3 84.0 568.4 81.1 566.5 78.7 564.2 76.0 561.9 73.6 559.8 71.6 557.1 69.3 554.7 67.5 551.8 65.5 548.8 63.7 545.9 62.2 542.9 60.8 539.9 59.5 536.4 58.2 532.8 57.2 529.3 56.3 525.7 55.6 522.2 55.1 518.6 54.7Z"/></defs><use href="#p18" fill="#7cbe64"/>
<defs><path id="p19" d="M516.8 61.0 513.9 60.8 510.3 60.8 507.4 61.0 504.4 61.2 500.8 61.7 497.9 62.3 494.9 63.0 492.0 63.8 489.0 64.8 486.0 65.9 483.1 67.3 480.7 68.5 477.7 70.2 475.4 71.7 473.0 73.4 470.6 75.3 468.3 77.4 466.4 79.3 464.2 81.6 462.3 83.9 460.5 86.3 458.9 88.7 457.5 91.0 455.9 94.0 454.8 96.3 453.6 99.3 452.5 102.2 451.6 105.2 450.8 108.1 450.2 111.1 449.7 114.6 449.4 117.6 449.2 120.5 449.1 124.0 449.2 127.0 449.5 130.5 449.9 134.1 450.5 137.0 451.1 139.9 451.9 142.9 452.9 145.8 454.0 148.8 455.2 151.5 456.5 154.1 458.2 157.0 459.7 159.4 461.3 161.8 463.2 164.1 465.2 166.5 467.1 168.4 469.4 170.6 471.8 172.6 474.2 174.4 476.6 176.0 478.9 177.4 481.9 179.0 484.8 180.4 487.8 181.7 490.8 182.7 493.7 183.6 496.7 184.4 499.7 185.0 503.2 185.5 506.2 185.9 509.1 186.0 512.7 186.1 515.7 186.0 519.2 185.7 522.8 185.3 525.7 184.8 528.7 184.1 531.7 183.3 534.6 182.3 537.6 181.2 540.3 180.0 542.9 178.7 545.9 177.1 548.2 175.6 550.6 173.9 553.0 172.1 555.4 170.1 557.3 168.2 559.5 165.9 561.5 163.5 563.3 161.2 564.9 158.8 566.4 156.4 568.0 153.5 569.4 150.6 570.6 147.6 571.7 144.7 572.6 141.7 573.4 138.8 574.0 135.8 574.5 132.3 574.8 129.3 575.0 126.4 575.1 122.9 575.0 119.9 574.7 116.4 574.3 112.8 573.7 109.9 573.1 107.0 572.3 104.0 571.3 101.1 570.2 98.1 568.9 95.2 567.4 92.2 565.7 89.3 564.1 86.9 562.4 84.6 560.5 82.2 558.4 79.8 556.5 78.0 554.2 75.8 551.8 73.9 549.4 72.1 546.5 70.2 543.8 68.6 541.1 67.3 538.2 65.9 535.2 64.8 532.2 63.8 529.3 63.0 526.3 62.3 523.4 61.7 520.4 61.3Z"/></defs><use href="#p19" fill="#7abb40"/>
<defs><path id="p20" d="M515.7 66.9 512.7 66.8 509.7 66.8 504.4 67.2 501.4 67.7 498.5 68.3 495.5 69.1 493.1 69.8 490.2 70.9 487.8 71.9 485.4 73.0 483.1 74.3 480.7 75.7 478.3 77.3 476.0 79.0 474.2 80.5 470.5 84.0 468.8 85.8 467.0 88.1 465.2 90.5 463.7 92.8 462.3 95.2 461.1 97.5 459.7 100.5 458.8 102.8 458.0 105.2 457.1 108.1 456.5 110.5 455.9 113.4 455.5 116.4 455.2 119.3 455.1 122.3 455.1 125.2 455.5 130.5 455.9 133.5 456.5 136.4 457.3 139.4 458.0 141.7 459.0 144.7 460.0 147.0 461.1 149.4 462.3 151.8 463.7 154.1 465.3 156.5 467.0 158.8 468.8 161.1 470.5 162.9 472.4 164.8 474.3 166.5 476.6 168.3 478.9 170.1 481.3 171.6 483.7 173.0 486.0 174.2 489.0 175.5 491.4 176.5 493.7 177.3 496.7 178.2 499.1 178.7 502.0 179.3 505.0 179.7 508.0 180.0 510.9 180.1 513.9 180.1 519.2 179.7 522.2 179.3 525.1 178.7 528.1 178.0 530.5 177.3 533.4 176.3 535.8 175.3 538.2 174.2 540.6 172.9 542.9 171.6 545.4 170.0 547.7 168.3 549.9 166.5 551.8 164.8 553.7 162.9 555.4 161.1 557.2 158.8 559.0 156.4 560.5 154.1 561.9 151.7 563.1 149.4 564.5 146.4 565.4 144.1 566.2 141.7 567.1 138.8 567.7 136.4 568.3 133.5 568.7 130.5 569.0 127.6 569.1 124.6 569.1 121.7 568.7 116.4 568.3 113.4 567.7 110.5 566.9 107.5 566.2 105.2 565.2 102.2 564.2 99.9 562.8 96.9 561.6 94.6 560.1 92.2 558.5 89.9 556.8 87.5 555.3 85.7 553.1 83.4 551.3 81.6 549.2 79.8 547.1 78.1 544.7 76.4 542.3 74.9 539.9 73.6 537.6 72.4 535.2 71.4 532.2 70.2 529.9 69.4 526.9 68.6 524.0 67.9 521.6 67.5 518.6 67.1Z"/></defs><use href="#p20" fill="#76b730"/>
<defs><path id="p21" d="M514.5 72.2 512.1 72.1 509.1 72.2 504.4 72.7 501.4 73.2 499.1 73.7 494.3 75.1 492.0 76.0 489.6 77.1 485.4 79.3 483.1 80.7 481.3 82.0 479.4 83.4 477.3 85.1 475.4 86.9 473.8 88.7 472.2 90.5 470.6 92.5 468.0 96.3 466.7 98.7 465.5 101.1 464.4 103.4 463.5 105.8 462.1 110.5 461.1 115.2 460.8 117.6 460.6 120.5 460.5 125.2 460.7 128.2 461.0 130.5 461.4 133.5 462.0 135.8 463.3 140.5 464.2 142.9 465.2 145.3 466.3 147.6 467.7 150.0 469.1 152.3 470.4 154.1 471.8 156.0 473.6 158.0 475.4 159.9 477.1 161.6 478.9 163.1 481.0 164.7 484.8 167.3 487.2 168.6 489.6 169.8 492.0 170.9 494.3 171.8 499.1 173.2 503.8 174.1 506.2 174.4 509.1 174.7 513.9 174.7 516.8 174.6 519.2 174.3 522.2 173.8 524.5 173.3 529.3 172.0 531.7 171.1 534.0 170.1 536.4 168.9 538.8 167.6 541.1 166.2 542.9 164.9 544.8 163.5 546.9 161.8 548.8 160.0 550.4 158.2 552.0 156.4 553.6 154.4 556.2 150.6 557.5 148.2 558.7 145.8 559.8 143.5 560.7 141.1 562.1 136.4 563.1 131.7 563.4 129.3 563.6 126.4 563.7 121.7 563.5 118.7 563.2 116.4 562.8 113.4 562.2 111.1 560.9 106.4 560.0 104.0 559.0 101.6 557.9 99.3 556.5 96.9 555.1 94.6 553.8 92.8 552.4 90.9 550.6 88.9 548.8 87.0 547.1 85.3 545.3 83.8 543.2 82.2 539.4 79.6 537.0 78.3 534.6 77.1 532.2 76.0 529.9 75.1 527.5 74.4 524.5 73.6 519.8 72.7 517.4 72.4Z"/></defs><use href="#p21" fill="#8bbe22"/>
<defs><path id="p22" d="M516.8 77.4 512.1 77.2 507.4 77.4 505.0 77.7 502.6 78.1 498.5 79.2 494.3 80.6 490.2 82.5 487.8 83.8 486.0 85.0 482.6 87.5 479.3 90.5 477.6 92.2 476.0 94.0 473.4 97.5 471.3 101.1 469.3 105.2 467.8 109.3 466.7 113.4 466.2 115.8 465.9 118.1 465.6 122.9 465.8 127.6 466.0 129.9 466.4 132.3 467.4 136.4 468.8 140.5 470.6 144.7 471.8 146.8 473.0 148.8 475.6 152.3 477.0 154.1 478.7 155.9 481.9 158.8 485.4 161.5 487.6 162.9 489.6 164.1 493.7 166.0 497.9 167.5 502.0 168.6 504.4 169.1 506.8 169.4 511.5 169.7 516.2 169.5 521.0 168.9 525.1 167.9 529.3 166.5 533.4 164.7 535.6 163.5 537.5 162.3 541.1 159.8 542.9 158.3 544.7 156.7 547.7 153.5 550.4 150.0 551.8 147.8 552.9 145.8 554.9 141.7 556.4 137.6 557.5 133.5 558.0 131.1 558.3 128.8 558.6 124.0 558.4 119.3 558.2 117.0 557.8 114.6 556.8 110.5 556.1 108.1 555.2 105.8 553.3 101.6 551.9 99.3 550.8 97.5 548.2 94.1 545.3 90.8 543.5 89.1 541.7 87.6 538.2 85.0 536.4 83.8 534.0 82.5 529.9 80.6 525.7 79.2 521.6 78.1 519.2 77.7Z"/></defs><use href="#p22" fill="#acc912"/>
<defs><path id="p23" d="M517.4 81.6 513.3 81.2 509.1 81.3 505.0 81.8 500.8 82.7 496.7 84.0 493.1 85.6 489.6 87.5 486.0 90.0 483.1 92.5 480.1 95.5 477.6 98.7 475.3 102.2 473.5 105.8 472.0 109.3 470.8 113.4 470.1 117.6 469.7 121.7 469.7 125.8 470.1 129.9 471.0 134.1 472.3 138.2 473.7 141.7 475.6 145.3 478.0 148.8 480.7 152.0 483.7 155.0 486.6 157.4 490.2 159.7 493.7 161.6 497.9 163.3 502.0 164.5 506.2 165.3 510.3 165.6 514.5 165.6 518.6 165.2 522.8 164.3 526.9 163.1 530.5 161.6 534.0 159.7 537.6 157.4 540.9 154.7 543.8 151.7 546.2 148.8 548.6 145.3 550.5 141.7 552.2 137.6 553.4 133.5 554.1 129.3 554.5 125.2 554.5 122.9 554.4 120.5 554.0 116.4 553.1 112.3 551.7 108.1 550.2 104.6 548.2 101.1 545.8 97.5 543.2 94.6 540.2 91.6 537.0 89.1 533.4 86.8 529.9 85.0 525.7 83.4 521.6 82.3Z"/></defs><use href="#p23" fill="#d0d505"/>
<defs><path id="p24" d="M518.0 85.7 514.5 85.3 510.3 85.3 506.8 85.6 503.2 86.2 499.7 87.2 496.1 88.6 492.5 90.4 489.6 92.3 486.7 94.6 484.3 96.9 481.7 99.9 479.5 103.0 477.6 106.4 476.1 109.9 475.0 113.4 474.2 117.0 473.8 120.5 473.7 124.6 474.0 128.8 474.7 132.3 475.7 135.8 477.1 139.4 478.6 142.3 480.7 145.7 483.1 148.7 485.4 151.1 488.4 153.7 491.4 155.7 494.3 157.4 497.9 159.0 501.4 160.2 505.6 161.1 509.1 161.6 513.3 161.7 517.4 161.3 521.0 160.7 524.5 159.7 528.1 158.3 531.1 156.8 534.4 154.7 537.5 152.3 539.9 150.0 542.5 147.0 544.6 144.1 546.3 141.1 547.9 137.6 549.1 134.1 550.0 129.9 550.4 126.4 550.5 122.3 550.2 118.1 549.5 114.6 548.5 111.1 547.1 107.5 545.3 104.0 543.4 101.1 541.0 98.1 538.2 95.2 535.3 92.8 532.2 90.8 528.7 88.9 525.1 87.4 521.6 86.4Z"/></defs><use href="#p24" fill="#f8d806"/>
<defs><path id="p25" d="M514.5 89.3 510.9 89.2 507.4 89.5 503.8 90.2 500.8 91.0 497.9 92.2 494.9 93.7 492.0 95.6 489.4 97.5 487.0 99.9 484.8 102.4 482.9 105.2 481.2 108.1 479.9 111.1 478.8 114.6 478.1 117.6 477.7 121.1 477.7 124.6 478.0 128.2 478.6 131.7 479.5 134.6 480.7 137.6 482.2 140.5 484.1 143.5 486.0 146.0 488.4 148.4 490.9 150.6 493.7 152.5 496.7 154.2 499.7 155.4 503.2 156.6 506.2 157.2 509.7 157.6 513.3 157.7 516.8 157.4 520.4 156.7 523.4 155.9 526.3 154.7 529.3 153.2 532.2 151.3 534.8 149.4 537.2 147.0 539.4 144.5 541.3 141.7 543.0 138.8 544.3 135.8 545.4 132.3 546.1 129.3 546.5 125.8 546.5 122.3 546.2 118.7 545.6 115.2 544.7 112.3 543.5 109.3 542.0 106.4 540.1 103.4 538.2 100.9 535.8 98.5 533.3 96.3 530.5 94.4 527.5 92.7 524.5 91.5 521.0 90.3 518.0 89.7Z"/></defs><use href="#p25" fill="#f3aa07"/>
<defs><path id="p26" d="M516.8 92.8 513.9 92.5 510.3 92.5 507.4 92.8 504.4 93.3 501.4 94.2 499.1 95.2 496.1 96.7 493.7 98.3 491.4 100.1 489.2 102.2 487.2 104.6 485.6 107.0 484.2 109.3 482.9 112.3 482.0 115.2 481.3 118.1 481.0 121.1 480.9 124.6 481.2 127.6 481.7 130.5 482.5 133.5 483.7 136.4 484.9 138.8 486.6 141.5 488.7 144.1 490.8 146.2 493.1 148.2 495.5 149.8 497.9 151.1 500.8 152.4 503.8 153.4 506.8 154.0 509.7 154.4 513.3 154.5 516.2 154.2 519.2 153.7 522.2 152.9 525.1 151.7 527.5 150.5 530.3 148.8 532.8 146.8 535.0 144.7 537.0 142.3 538.6 139.9 540.0 137.6 541.3 134.6 542.2 131.7 542.9 128.8 543.2 125.8 543.3 122.3 543.0 119.3 542.5 116.4 541.7 113.4 540.5 110.5 539.0 107.5 537.4 105.2 535.5 102.8 533.4 100.7 531.1 98.7 528.5 96.9 525.7 95.5 522.8 94.2 519.8 93.3Z"/></defs><use href="#p26" fill="#e97110"/>
<defs><path id="p27" d="M514.5 95.7 512.1 95.7 509.1 95.8 506.2 96.2 503.8 96.8 501.4 97.7 499.1 98.7 496.7 100.1 494.3 101.9 492.0 104.0 490.4 105.8 488.7 108.1 487.3 110.5 486.2 112.8 485.3 115.2 484.7 117.6 484.3 120.5 484.1 123.4 484.3 126.4 484.7 129.3 485.3 131.7 486.2 134.1 487.3 136.4 488.7 138.8 490.4 141.1 492.5 143.5 494.3 145.0 496.7 146.8 499.1 148.2 501.4 149.2 503.8 150.1 506.2 150.7 509.1 151.1 512.1 151.2 515.1 151.1 518.0 150.7 520.4 150.1 522.8 149.2 525.1 148.2 527.5 146.8 529.9 145.0 532.2 142.9 533.8 141.1 535.5 138.8 536.9 136.4 538.0 134.1 538.9 131.7 539.5 129.3 539.9 126.4 540.0 123.4 539.9 120.5 539.5 117.6 538.9 115.2 538.0 112.8 536.9 110.5 535.5 108.1 533.8 105.8 531.7 103.4 529.9 101.9 527.5 100.1 525.1 98.7 522.8 97.7 519.8 96.7 517.4 96.1Z"/></defs><use href="#p27" fill="#e23a1a"/>
<defs><path id="p28" d="M517.4 98.7 515.1 98.3 512.1 98.1 509.7 98.3 507.4 98.5 505.0 99.1 503.2 99.6 500.8 100.6 498.9 101.6 496.7 103.2 494.9 104.6 493.1 106.4 491.7 108.1 490.2 110.3 489.1 112.3 488.1 114.6 487.4 117.0 487.0 119.3 486.7 122.3 486.7 124.6 486.9 127.0 487.3 129.3 487.9 131.7 488.8 134.1 489.7 135.8 491.3 138.2 492.6 139.9 494.3 141.8 496.4 143.5 498.5 145.0 500.8 146.3 503.2 147.3 505.6 148.0 508.0 148.4 510.9 148.7 513.3 148.7 515.7 148.5 518.0 148.1 520.4 147.5 522.8 146.6 524.5 145.7 526.9 144.2 528.7 142.8 530.5 141.1 532.2 139.1 533.7 137.0 535.1 134.6 536.1 132.3 536.8 129.9 537.2 127.6 537.5 124.6 537.5 122.3 537.2 119.3 536.8 117.0 536.1 114.6 535.1 112.3 534.0 110.3 532.5 108.1 530.5 105.8 528.7 104.1 526.9 102.7 524.5 101.2 522.2 100.1 519.8 99.2Z"/></defs><use href="#p28" fill="#dc2822"/>
<path d="M511.60 100.50 521.88 102.85 530.13 109.42 534.71 118.93 534.71 129.47 530.13 138.98 521.88 145.55 511.60 147.90 501.32 145.55 493.07 138.98 488.49 129.47 488.49 118.93 493.07 109.42 501.32 102.85Z" fill="#1f4b9b" stroke="#9a1a20" stroke-width="0.7" stroke-opacity="0.5" stroke-linejoin="round"/>
<use href="#p13" fill="none" stroke="#003874" stroke-width="0.7" opacity="0.00"/>
<use href="#p14" fill="none" stroke="#005487" stroke-width="0.7" opacity="0.40"/>
<use href="#p15" fill="none" stroke="#006e94" stroke-width="0.7" opacity="0.80" stroke-dasharray="4.5 2.2"/>
<use href="#p16" fill="none" stroke="#368d88" stroke-width="0.7" opacity="0.80" stroke-dasharray="4.5 2.2"/>
<use href="#p17" fill="none" stroke="#29663e" stroke-width="0.7" opacity="0.80" stroke-dasharray="4.5 2.2"/>
<use href="#p18" fill="none" stroke="#216118" stroke-width="0.7" opacity="0.80" stroke-dasharray="4.5 2.2"/>
<use href="#p19" fill="none" stroke="#245e00" stroke-width="0.7" opacity="0.80" stroke-dasharray="4.5 2.2"/>
<use href="#p20" fill="none" stroke="#2e5c00" stroke-width="0.7" opacity="0.80" stroke-dasharray="4.5 2.2"/>
<use href="#p21" fill="none" stroke="#385d00" stroke-width="0.7" opacity="0.80" stroke-dasharray="4.5 2.2"/>
<use href="#p22" fill="none" stroke="#4b6200" stroke-width="0.7" opacity="0.80" stroke-dasharray="4.5 2.2"/>
<use href="#p23" fill="none" stroke="#5e6800" stroke-width="0.7" opacity="0.80" stroke-dasharray="4.5 2.2"/>
<use href="#p24" fill="none" stroke="#575100" stroke-width="0.7" opacity="0.80" stroke-dasharray="3.5 1.8"/>
<use href="#p25" fill="none" stroke="#5d4900" stroke-width="0.7" opacity="0.80" stroke-dasharray="3.5 1.8"/>
<use href="#p26" fill="none" stroke="#5a3400" stroke-width="0.7" opacity="0.80" stroke-dasharray="3.5 1.8"/>
<use href="#p27" fill="none" stroke="#571b00" stroke-width="0.7" opacity="0.80" stroke-dasharray="3.5 1.8"/>
<use href="#p28" fill="none" stroke="#550800" stroke-width="0.7" opacity="0.80" stroke-dasharray="3.5 1.8"/>
</g>
<path d="M38.00 5.80 H274.60 V241.30" fill="none" stroke="#22305a" stroke-width="0.7"/>
<path d="M38.00 5.60 V241.50 H274.80" fill="none" stroke="#111" stroke-width="1.1"/>
<line x1="38.00" y1="241.30" x2="38.00" y2="236.30" stroke="#111" stroke-width="1"/>
<line x1="38.00" y1="241.30" x2="43.50" y2="241.30" stroke="#111" stroke-width="1"/>
<text transform="translate(38.30,255.20) scale(0.97,1)" text-anchor="middle" class="t">0</text>
<text transform="translate(33.60,246.10) scale(0.97,1)" text-anchor="end" class="t">0</text>
<line x1="67.60" y1="241.30" x2="67.60" y2="236.30" stroke="#111" stroke-width="1"/>
<line x1="38.00" y1="211.84" x2="43.50" y2="211.84" stroke="#111" stroke-width="1"/>
<text transform="translate(67.90,255.20) scale(0.97,1)" text-anchor="middle" class="t">50</text>
<text transform="translate(33.60,216.64) scale(0.97,1)" text-anchor="end" class="t">50</text>
<line x1="97.20" y1="241.30" x2="97.20" y2="236.30" stroke="#111" stroke-width="1"/>
<line x1="38.00" y1="182.38" x2="43.50" y2="182.38" stroke="#111" stroke-width="1"/>
<text transform="translate(97.50,255.20) scale(0.97,1)" text-anchor="middle" class="t">100</text>
<text transform="translate(33.60,187.18) scale(0.97,1)" text-anchor="end" class="t">100</text>
<line x1="126.80" y1="241.30" x2="126.80" y2="236.30" stroke="#111" stroke-width="1"/>
<line x1="38.00" y1="152.91" x2="43.50" y2="152.91" stroke="#111" stroke-width="1"/>
<text transform="translate(127.10,255.20) scale(0.97,1)" text-anchor="middle" class="t">150</text>
<text transform="translate(33.60,157.71) scale(0.97,1)" text-anchor="end" class="t">150</text>
<line x1="156.40" y1="241.30" x2="156.40" y2="236.30" stroke="#111" stroke-width="1"/>
<line x1="38.00" y1="123.45" x2="43.50" y2="123.45" stroke="#111" stroke-width="1"/>
<text transform="translate(156.70,255.20) scale(0.97,1)" text-anchor="middle" class="t">200</text>
<text transform="translate(33.60,128.25) scale(0.97,1)" text-anchor="end" class="t">200</text>
<line x1="186.00" y1="241.30" x2="186.00" y2="236.30" stroke="#111" stroke-width="1"/>
<line x1="38.00" y1="93.99" x2="43.50" y2="93.99" stroke="#111" stroke-width="1"/>
<text transform="translate(186.30,255.20) scale(0.97,1)" text-anchor="middle" class="t">250</text>
<text transform="translate(33.60,98.79) scale(0.97,1)" text-anchor="end" class="t">250</text>
<line x1="215.60" y1="241.30" x2="215.60" y2="236.30" stroke="#111" stroke-width="1"/>
<line x1="38.00" y1="64.53" x2="43.50" y2="64.53" stroke="#111" stroke-width="1"/>
<text transform="translate(215.90,255.20) scale(0.97,1)" text-anchor="middle" class="t">300</text>
<text transform="translate(33.60,69.33) scale(0.97,1)" text-anchor="end" class="t">300</text>
<line x1="245.20" y1="241.30" x2="245.20" y2="236.30" stroke="#111" stroke-width="1"/>
<line x1="38.00" y1="35.06" x2="43.50" y2="35.06" stroke="#111" stroke-width="1"/>
<text transform="translate(245.50,255.20) scale(0.97,1)" text-anchor="middle" class="t">350</text>
<text transform="translate(33.60,39.86) scale(0.97,1)" text-anchor="end" class="t">350</text>
<line x1="274.80" y1="241.30" x2="274.80" y2="236.30" stroke="#111" stroke-width="1"/>
<line x1="38.00" y1="5.60" x2="43.50" y2="5.60" stroke="#111" stroke-width="1"/>
<text transform="translate(275.10,255.20) scale(0.97,1)" text-anchor="middle" class="t">400</text>
<text transform="translate(33.60,10.40) scale(0.97,1)" text-anchor="end" class="t">400</text>
<path d="M393.60 5.80 H630.40 V241.30" fill="none" stroke="#22305a" stroke-width="0.7"/>
<path d="M393.60 5.60 V241.50 H630.60" fill="none" stroke="#111" stroke-width="1.1"/>
<line x1="393.60" y1="241.30" x2="393.60" y2="236.30" stroke="#111" stroke-width="1"/>
<line x1="393.60" y1="241.30" x2="399.10" y2="241.30" stroke="#111" stroke-width="1"/>
<text transform="translate(393.90,255.20) scale(0.97,1)" text-anchor="middle" class="t">0</text>
<text transform="translate(389.20,246.10) scale(0.97,1)" text-anchor="end" class="t">0</text>
<line x1="423.23" y1="241.30" x2="423.23" y2="236.30" stroke="#111" stroke-width="1"/>
<line x1="393.60" y1="211.84" x2="399.10" y2="211.84" stroke="#111" stroke-width="1"/>
<text transform="translate(423.53,255.20) scale(0.97,1)" text-anchor="middle" class="t">50</text>
<text transform="translate(389.20,216.64) scale(0.97,1)" text-anchor="end" class="t">50</text>
<line x1="452.85" y1="241.30" x2="452.85" y2="236.30" stroke="#111" stroke-width="1"/>
<line x1="393.60" y1="182.38" x2="399.10" y2="182.38" stroke="#111" stroke-width="1"/>
<text transform="translate(453.15,255.20) scale(0.97,1)" text-anchor="middle" class="t">100</text>
<text transform="translate(389.20,187.18) scale(0.97,1)" text-anchor="end" class="t">100</text>
<line x1="482.48" y1="241.30" x2="482.48" y2="236.30" stroke="#111" stroke-width="1"/>
<line x1="393.60" y1="152.91" x2="399.10" y2="152.91" stroke="#111" stroke-width="1"/>
<text transform="translate(482.78,255.20) scale(0.97,1)" text-anchor="middle" class="t">150</text>
<text transform="translate(389.20,157.71) scale(0.97,1)" text-anchor="end" class="t">150</text>
<line x1="512.10" y1="241.30" x2="512.10" y2="236.30" stroke="#111" stroke-width="1"/>
<line x1="393.60" y1="123.45" x2="399.10" y2="123.45" stroke="#111" stroke-width="1"/>
<text transform="translate(512.40,255.20) scale(0.97,1)" text-anchor="middle" class="t">200</text>
<text transform="translate(389.20,128.25) scale(0.97,1)" text-anchor="end" class="t">200</text>
<line x1="541.73" y1="241.30" x2="541.73" y2="236.30" stroke="#111" stroke-width="1"/>
<line x1="393.60" y1="93.99" x2="399.10" y2="93.99" stroke="#111" stroke-width="1"/>
<text transform="translate(542.02,255.20) scale(0.97,1)" text-anchor="middle" class="t">250</text>
<text transform="translate(389.20,98.79) scale(0.97,1)" text-anchor="end" class="t">250</text>
<line x1="571.35" y1="241.30" x2="571.35" y2="236.30" stroke="#111" stroke-width="1"/>
<line x1="393.60" y1="64.53" x2="399.10" y2="64.53" stroke="#111" stroke-width="1"/>
<text transform="translate(571.65,255.20) scale(0.97,1)" text-anchor="middle" class="t">300</text>
<text transform="translate(389.20,69.33) scale(0.97,1)" text-anchor="end" class="t">300</text>
<line x1="600.98" y1="241.30" x2="600.98" y2="236.30" stroke="#111" stroke-width="1"/>
<line x1="393.60" y1="35.06" x2="399.10" y2="35.06" stroke="#111" stroke-width="1"/>
<text transform="translate(601.27,255.20) scale(0.97,1)" text-anchor="middle" class="t">350</text>
<text transform="translate(389.20,39.86) scale(0.97,1)" text-anchor="end" class="t">350</text>
<line x1="630.60" y1="241.30" x2="630.60" y2="236.30" stroke="#111" stroke-width="1"/>
<line x1="393.60" y1="5.60" x2="399.10" y2="5.60" stroke="#111" stroke-width="1"/>
<text transform="translate(630.90,255.20) scale(0.97,1)" text-anchor="middle" class="t">400</text>
<text transform="translate(389.20,10.40) scale(0.97,1)" text-anchor="end" class="t">400</text>
<rect x="280.20" y="48.70" width="16.00" height="6.80" fill="#de2822"/>
<rect x="280.20" y="55.20" width="16.00" height="13.02" fill="#e24818"/>
<rect x="280.20" y="67.92" width="16.00" height="13.02" fill="#f09608"/>
<rect x="280.20" y="80.64" width="16.00" height="13.02" fill="#f8d806"/>
<rect x="280.20" y="93.36" width="16.00" height="13.02" fill="#cad404"/>
<rect x="280.20" y="106.08" width="16.00" height="13.02" fill="#96c21c"/>
<rect x="280.20" y="118.80" width="16.00" height="13.02" fill="#76b62e"/>
<rect x="280.20" y="131.52" width="16.00" height="13.02" fill="#7abc40"/>
<rect x="280.20" y="144.24" width="16.00" height="13.02" fill="#7ebe68"/>
<rect x="280.20" y="156.96" width="16.00" height="13.02" fill="#96cfb6"/>
<rect x="280.20" y="169.68" width="16.00" height="13.02" fill="#86ccda"/>
<rect x="280.20" y="182.40" width="16.00" height="13.02" fill="#2890cc"/>
<rect x="280.20" y="195.12" width="16.00" height="13.02" fill="#1456a2"/>
<rect x="280.20" y="207.84" width="16.00" height="7.76" fill="#1f4b9b"/>
<line x1="280.20" y1="80.64" x2="296.20" y2="80.64" stroke="#3a2a10" stroke-width="0.8" opacity="0.75"/>
<line x1="280.20" y1="106.08" x2="296.20" y2="106.08" stroke="#3a2a10" stroke-width="0.8" opacity="0.30"/>
<text transform="translate(303.20,59.15) scale(0.87,1)" class="c">1.060</text>
<text transform="translate(303.20,72.06) scale(0.87,1)" class="c">1.055</text>
<text transform="translate(303.20,84.97) scale(0.87,1)" class="c">1.050</text>
<text transform="translate(303.20,97.88) scale(0.87,1)" class="c">1.045</text>
<text transform="translate(303.20,110.79) scale(0.87,1)" class="c">1.040</text>
<text transform="translate(303.20,123.70) scale(0.87,1)" class="c">1.035</text>
<text transform="translate(303.20,136.61) scale(0.87,1)" class="c">1.030</text>
<text transform="translate(303.20,149.52) scale(0.87,1)" class="c">1.025</text>
<text transform="translate(303.20,162.43) scale(0.87,1)" class="c">1.020</text>
<text transform="translate(303.20,175.34) scale(0.87,1)" class="c">1.015</text>
<text transform="translate(303.20,188.25) scale(0.87,1)" class="c">1.010</text>
<text transform="translate(303.20,201.16) scale(0.87,1)" class="c">1.005</text>
<text transform="translate(303.20,214.07) scale(0.87,1)" class="c">1.000</text>
<rect x="636.60" y="28.70" width="16.10" height="7.10" fill="#dc2822"/>
<rect x="636.60" y="35.50" width="16.10" height="12.08" fill="#e23a1a"/>
<rect x="636.60" y="47.28" width="16.10" height="12.08" fill="#e97110"/>
<rect x="636.60" y="59.06" width="16.10" height="12.08" fill="#f3aa07"/>
<rect x="636.60" y="70.84" width="16.10" height="12.08" fill="#f8d806"/>
<rect x="636.60" y="82.62" width="16.10" height="12.08" fill="#d0d505"/>
<rect x="636.60" y="94.40" width="16.10" height="12.08" fill="#acc912"/>
<rect x="636.60" y="106.18" width="16.10" height="12.08" fill="#8bbe22"/>
<rect x="636.60" y="117.96" width="16.10" height="12.08" fill="#76b730"/>
<rect x="636.60" y="129.74" width="16.10" height="12.08" fill="#7abb40"/>
<rect x="636.60" y="141.52" width="16.10" height="12.08" fill="#7cbe64"/>
<rect x="636.60" y="153.30" width="16.10" height="12.08" fill="#88c78e"/>
<rect x="636.60" y="165.08" width="16.10" height="12.08" fill="#96d0ba"/>
<rect x="636.60" y="176.86" width="16.10" height="12.08" fill="#8ad0de"/>
<rect x="636.60" y="188.64" width="16.10" height="12.08" fill="#209ed4"/>
<rect x="636.60" y="200.42" width="16.10" height="12.08" fill="#186eb9"/>
<rect x="636.60" y="212.20" width="16.10" height="12.08" fill="#144e9c"/>
<rect x="636.60" y="223.98" width="16.10" height="5.02" fill="#1f4b9b"/>
<line x1="636.60" y1="47.28" x2="652.70" y2="47.28" stroke="#3a2a10" stroke-width="0.8" opacity="0.60"/>
<line x1="636.60" y1="82.62" x2="652.70" y2="82.62" stroke="#3a2a10" stroke-width="0.8" opacity="0.60"/>
<text transform="translate(657.00,39.55) scale(0.87,1)" class="c">1.080</text>
<text transform="translate(657.00,51.39) scale(0.87,1)" class="c">1.075</text>
<text transform="translate(657.00,63.23) scale(0.87,1)" class="c">1.070</text>
<text transform="translate(657.00,75.07) scale(0.87,1)" class="c">1.065</text>
<text transform="translate(657.00,86.91) scale(0.87,1)" class="c">1.060</text>
<text transform="translate(657.00,98.75) scale(0.87,1)" class="c">1.055</text>
<text transform="translate(657.00,110.59) scale(0.87,1)" class="c">1.050</text>
<text transform="translate(657.00,122.43) scale(0.87,1)" class="c">1.045</text>
<text transform="translate(657.00,134.27) scale(0.87,1)" class="c">1.040</text>
<text transform="translate(657.00,146.11) scale(0.87,1)" class="c">1.035</text>
<text transform="translate(657.00,157.95) scale(0.87,1)" class="c">1.030</text>
<text transform="translate(657.00,169.79) scale(0.87,1)" class="c">1.025</text>
<text transform="translate(657.00,181.63) scale(0.87,1)" class="c">1.020</text>
<text transform="translate(657.00,193.47) scale(0.87,1)" class="c">1.015</text>
<text transform="translate(657.00,205.31) scale(0.87,1)" class="c">1.010</text>
<text transform="translate(657.00,217.15) scale(0.87,1)" class="c">1.005</text>
<text transform="translate(657.00,228.99) scale(0.87,1)" class="c">1.000</text>
<text transform="translate(156.3,271.3) scale(1.03,1)" text-anchor="middle" class="i">X</text>
<text transform="translate(515.9,271.3) scale(1.03,1)" text-anchor="middle" class="i">X</text>
<text transform="translate(9.3,124.5) rotate(-90) scale(0.89,1)" text-anchor="middle" class="i">Y</text>
<text transform="translate(364.6,123.8) rotate(-90) scale(0.89,1)" text-anchor="middle" class="i">Y</text>
<text x="318.2" y="42.1" text-anchor="middle" class="ic">C</text>
<text x="671.8" y="21.8" text-anchor="middle" class="ic">C</text>
<text transform="translate(163.8,288.4) scale(1.085,1)" text-anchor="middle" class="cap">(a) Type I</text>
<text transform="translate(519.4,288.4) scale(1.085,1)" text-anchor="middle" class="cap">(b) Type II</text>
</svg>
</body></html>
